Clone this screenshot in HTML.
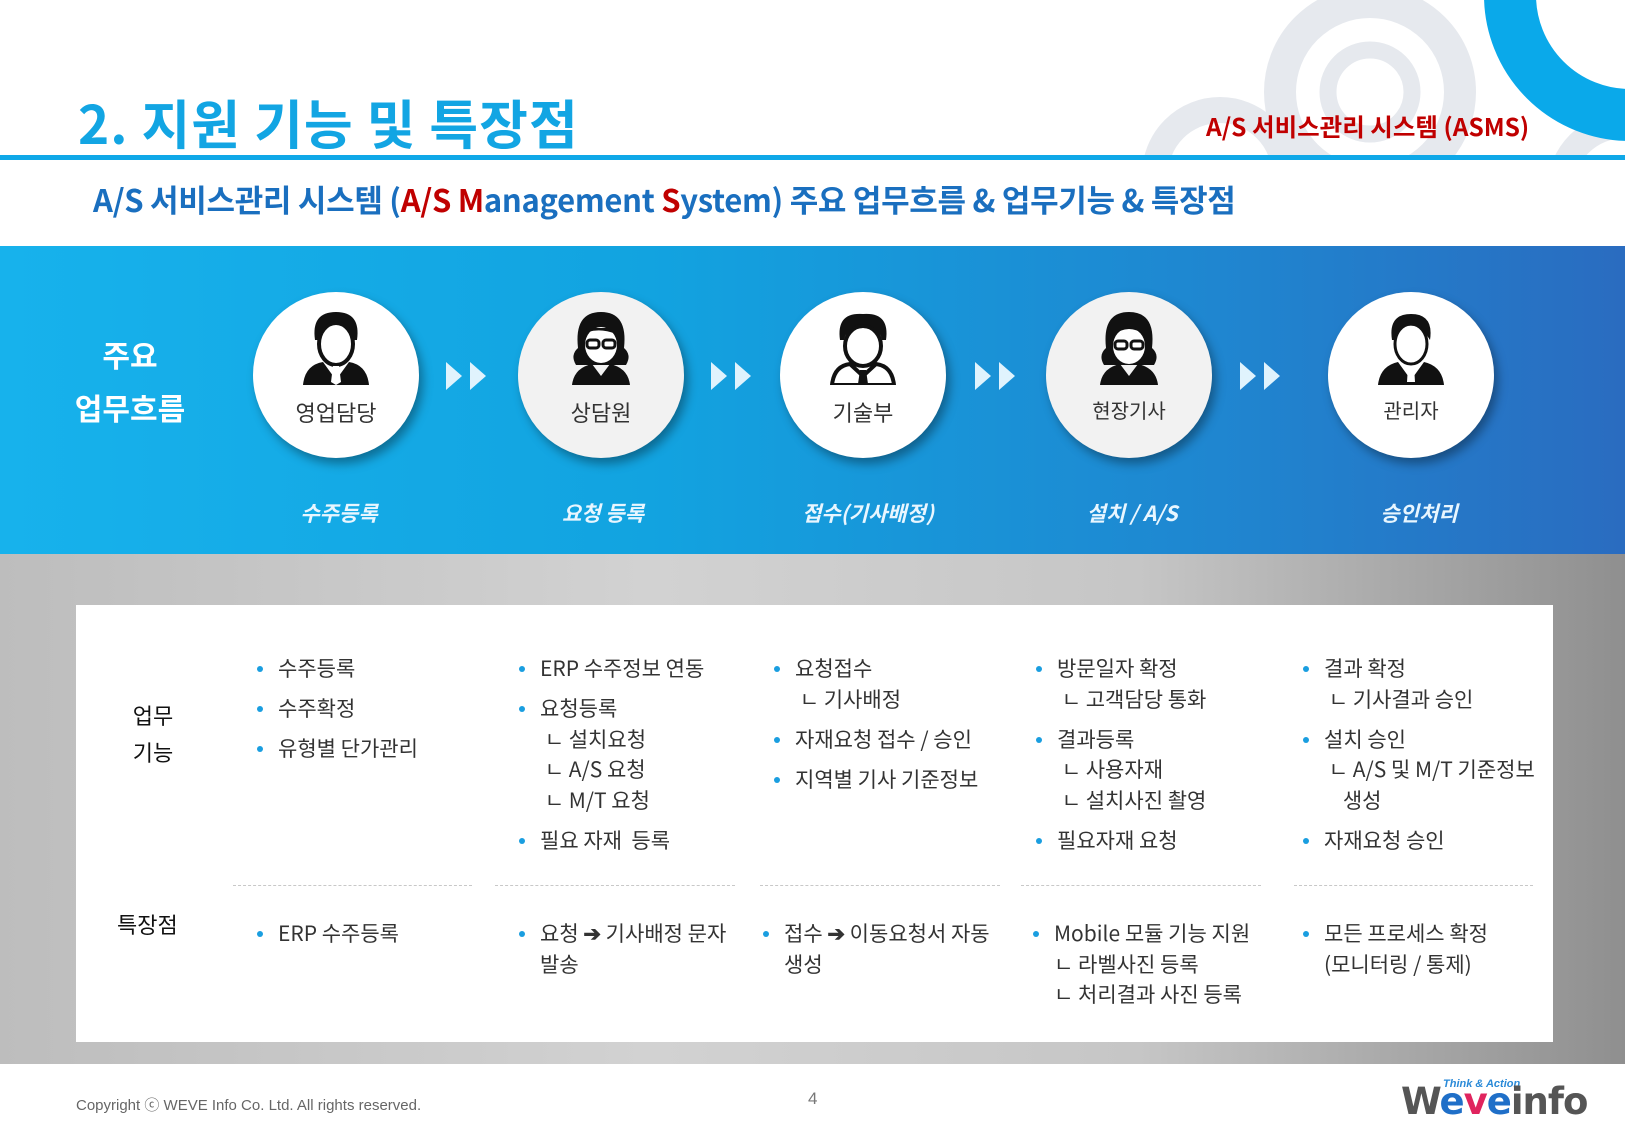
<!DOCTYPE html>
<html><head><meta charset="utf-8"><style>
*{margin:0;padding:0;box-sizing:border-box}
body{width:1625px;height:1147px;overflow:hidden;background:#fff;position:relative;font-family:"Liberation Sans","Noto Sans CJK KR",sans-serif;color:#333}
.a{position:absolute;white-space:nowrap}
.kr{font-family:"Noto Sans CJK KR","Liberation Sans",sans-serif}
.circ{position:absolute;width:166px;height:166px;border-radius:50%;background:#fff;box-shadow:4px 6px 10px rgba(0,0,0,.35)}
.circ span{position:absolute;left:0;right:0;top:104px;text-align:center;font-size:22px;color:#333}
.circ svg{position:absolute;left:48px;top:18px}
.lab{position:absolute;width:200px;text-align:center;color:#e8f6ff;font-size:21px;font-style:italic;font-weight:bold;top:498px}
.arr{position:absolute;top:362px}
.col{position:absolute;top:653px;font-size:21px;line-height:30.6px;color:#333}
.col div{position:relative;padding-left:20px}
.col div.b::before{content:"";position:absolute;left:-1px;top:13px;width:6px;height:6px;border-radius:50%;background:#1a9ee0}
.col .g{height:9.5px;padding:0}
.dash{position:absolute;top:885px;border-top:1.5px dashed #c8c8c8;height:0}
</style></head><body>
<svg class="a" style="left:1100px;top:0" width="525" height="160">
<circle cx="270" cy="92" r="90" fill="none" stroke="#e6e9ee" stroke-width="32"/>
<circle cx="270" cy="92" r="42" fill="none" stroke="#e6e9ee" stroke-width="17"/>
<circle cx="120" cy="175" r="65" fill="none" stroke="#e6e9ee" stroke-width="26"/>
<circle cx="525" cy="190" r="65" fill="none" stroke="#e6e9ee" stroke-width="26"/>
<circle cx="530" cy="-5" r="120" fill="none" stroke="#0aa9ea" stroke-width="52"/>
</svg>
<div class="a kr" style="left:78px;top:84px;font-size:53px;font-weight:bold;color:#12a5e3;letter-spacing:1px">2. 지원 기능 및 특장점</div>
<div class="a kr" style="left:1206px;top:109px;font-size:24.5px;font-weight:bold;color:#c00000">A/S 서비스관리 시스템 (ASMS)</div>
<div class="a" style="left:0;top:155px;width:1625px;height:5px;background:#0fa8e8"></div>
<div class="a kr" style="left:93px;top:176px;font-size:31px;font-weight:bold;color:#1a6fbf;letter-spacing:-0.3px">A/S 서비스관리 시스템 (<span style="color:#c00000">A/S M</span>anagement <span style="color:#c00000">S</span>ystem) 주요 업무흐름 &amp; 업무기능 &amp; 특장점</div>
<div class="a" style="left:0;top:246px;width:1625px;height:308px;background:linear-gradient(90deg,#17b2ec 0%,#12a3e0 40%,#1f86d0 75%,#2a6cc0 100%)"></div>
<div class="a kr" style="left:60px;top:328px;width:140px;text-align:center;font-size:30px;line-height:53px;color:#fff;font-weight:bold">주요<br>업무흐름</div>
<div class="circ" style="left:253px;top:292px"><svg width="70" height="75" viewBox="0 0 70 75"><path d="M14 30 Q10 2 35 2 Q60 2 56 30 L52 30 Q50 14 35 14 Q20 14 18 30Z" fill="#111"/><ellipse cx="35" cy="34" rx="17" ry="21" fill="none" stroke="#111" stroke-width="4"/><path d="M2 75 Q4 55 22 52 L35 70 L48 52 Q66 55 68 75Z" fill="#111"/><path d="M32 56 L38 56 L40 72 L35 75 L30 72Z" fill="#fff"/></svg><span>영업담당</span></div>
<div class="circ" style="left:518px;top:292px;background:#f2f2f2"><svg width="70" height="75" viewBox="0 0 70 75"><path d="M10 55 Q4 45 12 38 Q8 2 35 2 Q62 2 58 38 Q66 45 60 55 Z" fill="#111"/><ellipse cx="35" cy="35" rx="16" ry="18" fill="#fff"/><path d="M22 22 Q35 18 50 24 L50 18 L20 18Z" fill="#111"/><rect x="21" y="30" width="12" height="8" rx="3" fill="none" stroke="#111" stroke-width="3"/><rect x="37" y="30" width="12" height="8" rx="3" fill="none" stroke="#111" stroke-width="3"/><path d="M6 75 Q8 58 26 54 L35 66 L44 54 Q62 58 64 75Z" fill="#111"/></svg><span>상담원</span></div>
<div class="circ" style="left:780px;top:292px"><svg width="70" height="75" viewBox="0 0 70 75"><path d="M12 30 Q8 2 35 4 Q62 2 58 30 L54 30 Q52 18 35 18 Q18 18 16 30Z" fill="#111"/><ellipse cx="35" cy="36" rx="18" ry="20" fill="none" stroke="#111" stroke-width="4"/><path d="M4 75 Q6 56 22 54 L35 66 L48 54 Q64 56 66 75Z" fill="none" stroke="#111" stroke-width="4"/><path d="M32 60 L38 60 L40 74 L30 74Z" fill="#111"/></svg><span>기술부</span></div>
<div class="circ" style="left:1046px;top:292px;background:#f2f2f2"><svg width="70" height="75" viewBox="0 0 70 75"><path d="M10 55 Q4 45 12 38 Q8 2 35 2 Q62 2 58 38 Q66 45 60 55 Z" fill="#111"/><ellipse cx="35" cy="36" rx="16" ry="18" fill="#fff"/><path d="M18 26 Q35 12 52 26 L52 16 L18 16Z" fill="#111"/><rect x="21" y="31" width="12" height="8" rx="3" fill="none" stroke="#111" stroke-width="3"/><rect x="37" y="31" width="12" height="8" rx="3" fill="none" stroke="#111" stroke-width="3"/><path d="M6 75 Q8 58 26 54 L35 66 L44 54 Q62 58 64 75Z" fill="#111"/></svg><span style="font-size:20px;top:103px">현장기사</span></div>
<div class="circ" style="left:1328px;top:292px"><svg width="70" height="75" viewBox="0 0 70 75"><path d="M16 30 Q12 4 35 4 Q58 4 54 30 L50 24 Q44 14 30 16 Q22 18 20 30Z" fill="#111"/><ellipse cx="35" cy="34" rx="16" ry="20" fill="none" stroke="#111" stroke-width="3"/><path d="M2 75 Q4 56 22 52 L35 70 L48 52 Q66 56 68 75Z" fill="#111"/><path d="M32 56 L38 56 L39 72 L31 72Z" fill="#fff"/></svg><span style="font-size:20px;top:103px">관리자</span></div>
<svg class="arr" style="left:446px" width="46" height="28"><path d="M0 0L16 14L0 28Z M24 0L40 14L24 28Z" fill="#e0f3fd"/></svg>
<svg class="arr" style="left:711px" width="46" height="28"><path d="M0 0L16 14L0 28Z M24 0L40 14L24 28Z" fill="#e0f3fd"/></svg>
<svg class="arr" style="left:975px" width="46" height="28"><path d="M0 0L16 14L0 28Z M24 0L40 14L24 28Z" fill="#e0f3fd"/></svg>
<svg class="arr" style="left:1240px" width="46" height="28"><path d="M0 0L16 14L0 28Z M24 0L40 14L24 28Z" fill="#e0f3fd"/></svg>
<div class="lab kr" style="left:239px">수주등록</div>
<div class="lab kr" style="left:503px">요청 등록</div>
<div class="lab kr" style="left:768px">접수(기사배정)</div>
<div class="lab kr" style="left:1032px">설치 / A/S</div>
<div class="lab kr" style="left:1319px">승인처리</div>
<div class="a" style="left:0;top:554px;width:1625px;height:510px;background:linear-gradient(90deg,#bdbdbd,#d2d2d2 40%,#c6c6c6 70%,#8f8f8f)"></div>
<div class="a" style="left:76px;top:605px;width:1477px;height:437px;background:#fff"></div>
<div class="a kr" style="left:118px;top:697px;width:70px;text-align:center;font-size:22px;line-height:37px;color:#111">업무<br>기능</div>
<div class="a kr" style="left:117px;top:908px;font-size:22px;color:#111">특장점</div>
<div class="col kr" style="left:258px"><div class="b">수주등록</div><div class="g"></div><div class="b">수주확정</div><div class="g"></div><div class="b">유형별 단가관리</div></div>
<div class="col kr" style="left:520px"><div class="b">ERP 수주정보 연동</div><div class="g"></div><div class="b">요청등록</div><div>&nbsp;ㄴ 설치요청</div><div>&nbsp;ㄴ A/S 요청</div><div>&nbsp;ㄴ M/T 요청</div><div class="g"></div><div class="b">필요 자재&nbsp; 등록</div></div>
<div class="col kr" style="left:775px"><div class="b">요청접수</div><div>&nbsp;ㄴ 기사배정</div><div class="g"></div><div class="b">자재요청 접수 / 승인</div><div class="g"></div><div class="b">지역별 기사 기준정보</div></div>
<div class="col kr" style="left:1037px"><div class="b">방문일자 확정</div><div>&nbsp;ㄴ 고객담당 통화</div><div class="g"></div><div class="b">결과등록</div><div>&nbsp;ㄴ 사용자재</div><div>&nbsp;ㄴ 설치사진 촬영</div><div class="g"></div><div class="b">필요자재 요청</div></div>
<div class="col kr" style="left:1304px"><div class="b">결과 확정</div><div>&nbsp;ㄴ 기사결과 승인</div><div class="g"></div><div class="b">설치 승인</div><div>&nbsp;ㄴ A/S 및 M/T 기준정보</div><div>&nbsp;&nbsp;&nbsp;&nbsp;생성</div><div class="g"></div><div class="b">자재요청 승인</div></div>
<div class="dash" style="left:233px;width:239px"></div>
<div class="dash" style="left:495px;width:240px"></div>
<div class="dash" style="left:760px;width:240px"></div>
<div class="dash" style="left:1021px;width:240px"></div>
<div class="dash" style="left:1294px;width:239px"></div>
<div class="col kr" style="left:258px;top:918px"><div class="b">ERP 수주등록</div></div>
<div class="col kr" style="left:520px;top:918px"><div class="b">요청 <b>➔</b> 기사배정 문자</div><div>발송</div></div>
<div class="col kr" style="left:764px;top:918px"><div class="b">접수 <b>➔</b> 이동요청서 자동</div><div>생성</div></div>
<div class="col kr" style="left:1034px;top:918px"><div class="b">Mobile 모듈 기능 지원</div><div>ㄴ 라벨사진 등록</div><div>ㄴ 처리결과 사진 등록</div></div>
<div class="col kr" style="left:1304px;top:918px"><div class="b">모든 프로세스 확정</div><div>(모니터링 / 통제)</div></div>
<div class="a" style="left:76px;top:1094px;font-size:15px;color:#666">Copyright ⓒ WEVE Info Co. Ltd. All rights reserved.</div>
<div class="a" style="left:808px;top:1089px;font-size:17px;color:#777">4</div>
<div class="a" style="left:1443px;top:1078px;font-size:11px;font-style:italic;font-weight:bold;color:#2a8ad8">Think &amp; Action</div>
<div class="a" style="left:1401px;top:1080px;font-size:37px;font-weight:900;letter-spacing:-1px;color:#555;font-family:'DejaVu Sans',sans-serif">W<span style="color:#1f6fc8">e</span><span style="color:#e0245e">v</span><span style="color:#1f6fc8">e</span>info</div>
</body></html>
